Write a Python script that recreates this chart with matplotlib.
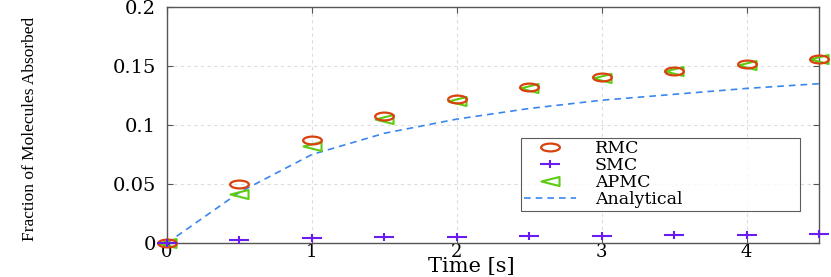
import numpy as np
import matplotlib
matplotlib.use("Agg")
import matplotlib.pyplot as plt
from matplotlib.path import Path
from matplotlib.transforms import Affine2D

# data
t = [0, 0.5, 1.0, 1.5, 2.0, 2.5, 3.0, 3.5, 4.0, 4.5]
rmc = [0, 0.050, 0.087, 0.108, 0.122, 0.132, 0.141, 0.146, 0.152, 0.156]
smc = [0, 0.0025, 0.0040, 0.0050, 0.0055, 0.0060, 0.0062, 0.0066, 0.0070, 0.0075]
apmc = [0, 0.0415, 0.082, 0.105, 0.120, 0.131, 0.140, 0.146, 0.151, 0.156]
analytical = [0, 0.043, 0.075, 0.093, 0.105, 0.114, 0.121, 0.126, 0.131, 0.135]
labels = ["RMC", "SMC", "APMC", "Analytical"]
xticks = [0, 1, 2, 3, 4]
yticks = [0, 0.05, 0.1, 0.15, 0.2]
yticklabels = ["0", "0.05", "0.1", "0.15", "0.2"]

plt.rcParams['font.family'] = ['DejaVu Serif']

# the original picture is stretched sideways, so are its markers
m_circ = Path.unit_circle().transformed(Affine2D().scale(2.4, 1.0))
m_tri = Path([(-1, 0), (1, 0.5), (1, -0.5), (-1, 0)],
             [Path.MOVETO, Path.LINETO, Path.LINETO, Path.CLOSEPOLY])
m_plus = Path([(-1, 0), (1, 0), (0, -0.45), (0, 0.45)],
              [Path.MOVETO, Path.LINETO, Path.MOVETO, Path.LINETO])

fig = plt.figure(figsize=(8.31, 2.77), dpi=100)
ax = fig.add_axes([0.201, 0.1227, 0.7845, 0.852])

ax.plot(t, rmc, ls='none', marker=m_circ, mfc='none', mec='#d9420f', mew=1.6, ms=13.5,
        label=labels[0], clip_on=False, zorder=4)
ax.plot(t, smc, ls='none', marker=m_plus, color='#6a1bf0', mew=1.5, ms=14,
        label=labels[1], clip_on=False, zorder=5)
ax.plot(t, apmc, ls='none', marker=m_tri, mfc='none', mec='#5ccc10', mew=1.5, ms=13,
        label=labels[2], clip_on=False, zorder=3)
ax.plot(t, analytical, '--', color='#3a86ef', lw=1.2, dashes=(4, 3), label=labels[3], zorder=2)

ax.set_xlim(0, 4.5)
ax.set_ylim(0, 0.2)
ax.set_xticks(xticks)
ax.set_yticks(yticks)
ax.set_yticklabels(yticklabels)
ax.tick_params(labelsize=14, direction='in', length=4, color='#555555', top=True, right=True)
ax.tick_params(axis='x', labelsize=13, pad=0)
ax.tick_params(axis='y', pad=8)
ax.grid(True, ls=(0, (3, 3)), color='#dddddd', lw=0.8)
for s in ax.spines.values():
    s.set_color('#555555')
    s.set_linewidth(1.0)

ax.set_xlabel("Time [s]", fontsize=15, va='baseline')
ax.xaxis.set_label_coords(0.466, -0.124)
ax.set_ylabel("Fraction of Molecules Absorbed", fontsize=12.5, family='Liberation Serif', va='center')
ax.yaxis.set_label_coords(-0.21, 0.485)

leg = ax.legend(loc='lower left', bbox_to_anchor=(0.543, 0.136, 0.428, 0.318), mode='expand',
                fontsize=12.5, frameon=True, fancybox=False, edgecolor='#333333',
                borderpad=0.15, labelspacing=0.0, handlelength=3.0, handletextpad=1.1,
                borderaxespad=0)
leg.get_frame().set_linewidth(0.8)

fig.savefig("out.png", dpi=100)
